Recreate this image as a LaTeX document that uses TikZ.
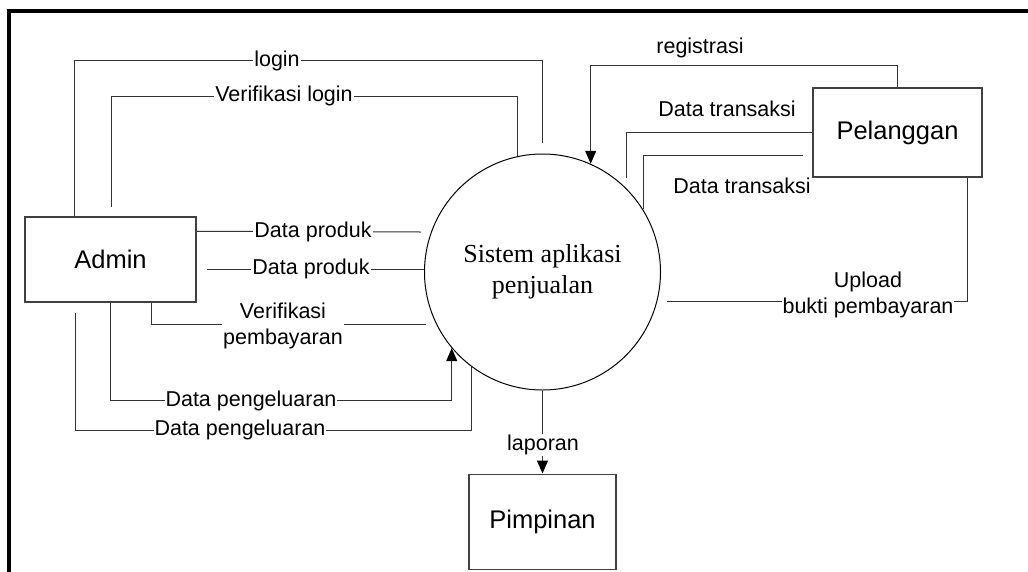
\documentclass[tikz,border=0pt]{standalone}
\usepackage{fontspec}
\setmainfont{Liberation Sans}
\newfontfamily\timesfont{Liberation Serif}
\usetikzlibrary{calc,positioning,arrows.meta}

\begin{document}
\begin{tikzpicture}[x=1pt,y=-1pt,font=\fontsize{21.5}{26}\selectfont]

\tikzset{entity/.style={draw=black!75,line width=1.5pt,shape=rectangle,inner sep=0pt,font=\fontsize{25.5}{30}\selectfont},
process/.style={draw=black,line width=1pt,shape=circle,inner sep=0pt,minimum size=236pt,align=center,font=\timesfont\fontsize{26}{31}\selectfont},
flow/.style={draw=black!80,line width=1pt},
flowarrow/.style={flow,-{Triangle[length=13pt,width=11pt,color=black]}},
flowlabel/.style={fill=white,inner sep=1pt,align=center}}

\useasboundingbox (0,0) rectangle (1028,571);

% Frame
\draw[line width=4pt] (9,580) -- (9,11) -- (1040,11);

% Entities and process
\node[entity,minimum width=171pt,minimum height=85pt] (admin) at (110.5,259.5) {Admin};
\node[process] (sistem) at (542.5,272) {Sistem aplikasi\\penjualan};
\node[entity,minimum width=169pt,minimum height=89pt] (pelanggan) at (897.5,132.5) {Pelanggan};
\node[entity,minimum width=147pt,minimum height=95pt,below=83pt of sistem] (pimpinan) {Pimpinan};

% Free ends
\coordinate (loginEnd) at ($(sistem.north)+(0,-11)$);
\coordinate (vlEnd) at (111,207);
\coordinate (dp1End) at (421,232);
\coordinate (dp2Start) at (207,269);
\coordinate (vpEnd) at (426,324);
\coordinate (dpg2Start) at (75,313);
\coordinate (dt1End) at (626,178);
\coordinate (dt2Start) at (803,155);
\coordinate (upStart) at (667,301);

% Flows
\draw[flow] ($(admin.north west)+(50,0)$) |- ($(loginEnd)+(0,-82)$) -- (loginEnd); % login
\draw[flow] (sistem.102.5) |- ($(vlEnd)+(0,-111)$) -- (vlEnd); % verifikasi login
\draw[flow] ($(admin.north east)+(0,15)$) -- (dp1End); \draw[flow] (dp2Start) -- (dp2Start -| sistem.west); % produk
\draw[flow] ($(admin.south west)+(127,0)$) |- (vpEnd); % verifikasi pembayaran
\draw[flowarrow] ($(admin.south west)+(86,0)$) |- ($(sistem.220.7)+(0,52)$) -- (sistem.220.7); % pengeluaran
\draw[flow] (dpg2Start) |- ($(sistem.233.3)+(0,63.4)$) -- (sistem.233.3);
\draw[flowarrow] (pelanggan.north) |- ($(sistem.66.8)+(0,-98.5)$) -- (sistem.66.8); % registrasi
\draw[flow] (pelanggan.west) -| (dt1End); \draw[flow] (dt2Start) -| (sistem.32.5); % transaksi
\draw[flow] (upStart) -| ($(pelanggan.south east)+(-15,0)$); % upload
\draw[flowarrow] (sistem.south) -- (pimpinan.north); % laporan

% Flow labels
\node[flowlabel] (lLogin) at (277,61) {login};
\node[flowlabel] (lVerLogin) at (284,96) {Verifikasi login};
\node[flowlabel] (lProduk1) at (313,232) {Data produk};
\node[flowlabel] (lProduk2) at (311,269) {Data produk};
\node[flowlabel] (lVerBayar) at (283,326) {Verifikasi\\pembayaran};
\node[flowlabel] (lKeluar1) at (251,401) {Data pengeluaran};
\node[flowlabel] (lKeluar2) at (240,430) {Data pengeluaran};
\node (lRegistrasi) at (700,48) {registrasi};
\node (lTransaksi1) at (727,109) {Data transaksi};
\node (lTransaksi2) at (742,186) {Data transaksi};
\node[flowlabel] (lUpload) at (868,295) {Upload\\bukti pembayaran};
\node[flowlabel] (lLaporan) at (543,445) {laporan};

\end{tikzpicture}
\end{document}
